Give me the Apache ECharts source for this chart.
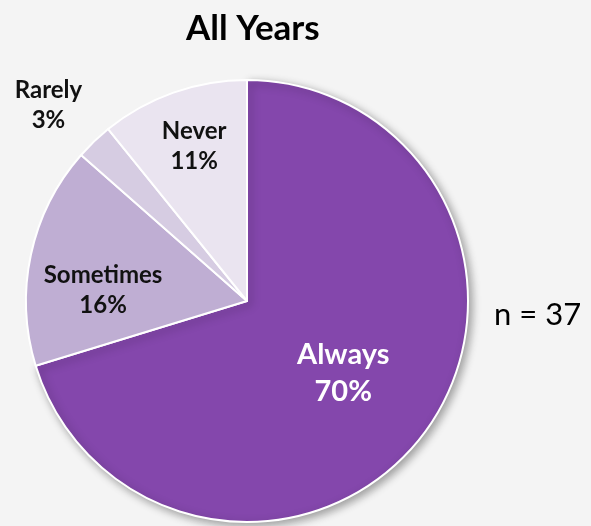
<!DOCTYPE html>
<html><head><meta charset="utf-8">
<script src="https://cdn.jsdelivr.net/npm/echarts@6/dist/echarts.min.js"></script>
<style>html,body{margin:0;padding:0;background:#f4f4f4}#c{width:591px;height:526px}</style>
</head><body><div id="c"></div>
<script>
const titleText = "All Years";
const noteText = "n = 37";
const categories = ["Always", "Sometimes", "Rarely", "Never"];
const counts = [26, 6, 1, 4];
const colors = ["#8447ac", "#bfaed3", "#d6cce2", "#eae4f0"];
const labelOffsets = [[5, 5], [-33, 13], [-120, -114], [-15, -48]];
const labelColors = ["#ffffff", "#111111", "#111111", "#111111"];
const labelSizes = [29, 24, 24, 24];

const chart = echarts.init(document.getElementById('c'));
const data = categories.map((c, i) => ({
  name: c, value: counts[i],
  itemStyle: Object.assign({color: colors[i]}, i === 0 ? {shadowBlur: 8, shadowOffsetX: 3, shadowOffsetY: 3, shadowColor: 'rgba(0,0,0,0.35)'} : {}),
  label: {offset: labelOffsets[i], color: labelColors[i], fontSize: labelSizes[i], lineHeight: Math.round(labelSizes[i] * 1.27)}
}));
chart.setOption({
  backgroundColor: '#f4f4f4',
  animation: false,
  title: [
    {text: titleText, left: 181, top: 6, textStyle: {fontFamily: 'Lato', fontWeight: 'bold', fontSize: 35, color: '#000'}},
    {text: noteText, left: 489, top: 294, textStyle: {fontFamily: 'Lato', fontWeight: 'normal', fontSize: 31, color: '#000'}}
  ],
  series: [{
    type: 'pie',
    center: [247, 301],
    radius: 221,
    startAngle: 90,
    clockwise: true,
    silent: true,
    avoidLabelOverlap: false,
    itemStyle: {borderColor: '#ffffff', borderWidth: 2},
    label: {
      show: true, position: 'inside',
      formatter: p => p.name + '\n' + Math.round(p.percent) + '%',
      fontFamily: 'Lato', fontWeight: 'bold', align: 'center'
    },
    labelLine: {show: false},
    data: data
  }]
});
</script></body></html>
